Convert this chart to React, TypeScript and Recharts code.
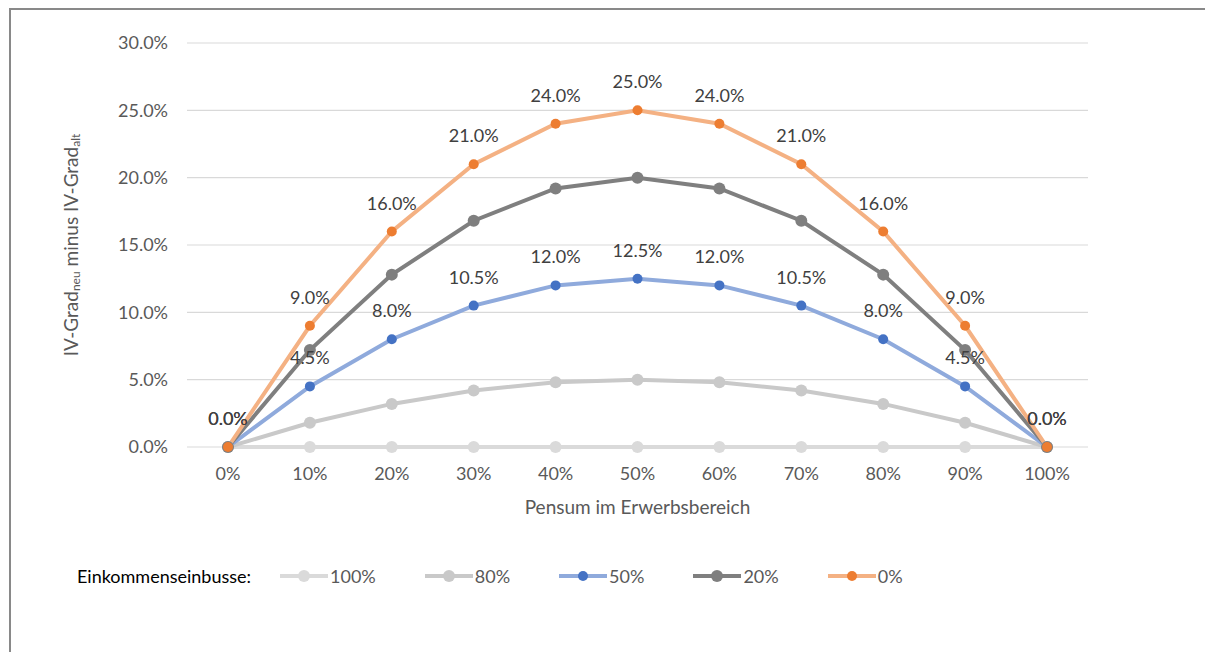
import { LineChart, Line, XAxis, YAxis, CartesianGrid, Legend, LabelList, Label } from 'recharts';

const pensum = ['0%', '10%', '20%', '30%', '40%', '50%', '60%', '70%', '80%', '90%', '100%'];

// Zunahme des IV-Grads je Einkommenseinbusse (in Prozentpunkten)
const einbusse100 = [0, 0, 0, 0, 0, 0, 0, 0, 0, 0, 0];
const einbusse80 = [0, 1.8, 3.2, 4.2, 4.8, 5.0, 4.8, 4.2, 3.2, 1.8, 0];
const einbusse50 = [0, 4.5, 8.0, 10.5, 12.0, 12.5, 12.0, 10.5, 8.0, 4.5, 0];
const einbusse20 = [0, 7.2, 12.8, 16.8, 19.2, 20.0, 19.2, 16.8, 12.8, 7.2, 0];
const einbusse0 = [0, 9.0, 16.0, 21.0, 24.0, 25.0, 24.0, 21.0, 16.0, 9.0, 0];

const yTicks = [0, 5, 10, 15, 20, 25, 30];

const data = pensum.map((p, i) => ({
  pensum: p,
  e100: einbusse100[i],
  e80: einbusse80[i],
  e50: einbusse50[i],
  e20: einbusse20[i],
  e0: einbusse0[i],
}));

const series = [
  { key: 'e100', name: '100%', line: '#DADADA', dot: '#DADADA', r: 6 },
  { key: 'e80', name: '80%', line: '#C9C9C9', dot: '#C9C9C9', r: 6 },
  { key: 'e50', name: '50%', line: '#8FAADC', dot: '#4472C4', r: 5 },
  { key: 'e20', name: '20%', line: '#7F7F7F', dot: '#7F7F7F', r: 6 },
  { key: 'e0', name: '0%', line: '#F4B183', dot: '#ED7D31', r: 5 },
];

const FONT = 'Lato, "Open Sans", sans-serif';
const pct = (v: any) => `${Number(v).toFixed(1)}%`;

function YTitle(props: any) {
  const vb = props.viewBox || { x: 0, y: 43, width: 100, height: 404 };
  const cx = 70;
  const cy = vb.y + vb.height / 2;
  return (
    <text
      x={cx}
      y={cy}
      transform={`rotate(-90 ${cx} ${cy})`}
      textAnchor="middle"
      dominantBaseline="central"
      fill="#595959"
      fontSize={19}
      fontFamily={FONT}
    >
      IV-Grad
      <tspan dy={5} fontSize={12}>neu</tspan>
      <tspan dy={-5}> minus IV-Grad</tspan>
      <tspan dy={5} fontSize={12}>alt</tspan>
    </text>
  );
}

function LegendRow() {
  return (
    <div style={{ display: 'flex', alignItems: 'center', fontFamily: FONT, fontSize: 18, color: '#595959', height: 40 }}>
      <span style={{ color: '#000', marginLeft: 77, width: 203 }}>Einkommenseinbusse:</span>
      {series.map((s) => (
        <span key={s.key} style={{ display: 'flex', alignItems: 'center', marginRight: 49 }}>
          <svg width={48} height={14}>
            <line x1={0} y1={7} x2={48} y2={7} stroke={s.line} strokeWidth={4} />
            <circle cx={24} cy={7} r={s.r} fill={s.dot} />
          </svg>
          <span style={{ marginLeft: 2 }}>{s.name}</span>
        </span>
      ))}
    </div>
  );
}

export default function App() {
  return (
    <div style={{ position: 'absolute', left: 0, top: 0, width: 1205, height: 652, background: '#fff', overflow: 'hidden' }}>
      <div
        style={{
          position: 'absolute',
          left: 9,
          top: 8,
          width: 1300,
          height: 700,
          borderTop: '2px solid #898989',
          borderLeft: '2px solid #898989',
        }}
      />
      <LineChart
        width={1205}
        height={652}
        data={data}
        margin={{ top: 43, right: 117, left: 87, bottom: 175 }}
        style={{ position: 'absolute', left: 0, top: 0 }}
      >
        <CartesianGrid horizontal vertical={false} stroke="#D9D9D9" strokeWidth={1.2} />
        <XAxis
          dataKey="pensum"
          height={30}
          padding={{ left: 41, right: 41 }}
          axisLine={false}
          tickLine={false}
          tickSize={0}
          tickMargin={20}
          tick={{ fontSize: 18, fill: '#595959', fontFamily: FONT }}
        >
          <Label
            value="Pensum im Erwerbsbereich"
            position="bottom"
            offset={24}
            fill="#595959"
            fontSize={19}
            fontFamily={FONT}
          />
        </XAxis>
        <YAxis
          width={100}
          domain={[0, 30]}
          ticks={yTicks}
          tickFormatter={pct}
          axisLine={false}
          tickLine={false}
          tickSize={0}
          tickMargin={19}
          tick={{ fontSize: 18, fill: '#595959', fontFamily: FONT }}
        >
          <Label content={YTitle} />
        </YAxis>
        <Legend
          verticalAlign="middle"
          align="center"
          content={() => <LegendRow />}
          wrapperStyle={{ left: 0, top: 556, width: 1205 }}
        />
        {series.map((s) => (
          <Line
            key={s.key}
            dataKey={s.key}
            name={s.name}
            type="linear"
            stroke={s.line}
            strokeWidth={4}
            dot={{ r: s.r, fill: s.dot, stroke: 'none' }}
            activeDot={false}
            isAnimationActive={false}
          >
            {(s.key === 'e50' || s.key === 'e0') && (
              <LabelList
                dataKey={s.key}
                position="top"
                offset={22}
                formatter={pct}
                fill="#404040"
                fontSize={18}
                fontFamily={FONT}
              />
            )}
          </Line>
        ))}
      </LineChart>
    </div>
  );
}
